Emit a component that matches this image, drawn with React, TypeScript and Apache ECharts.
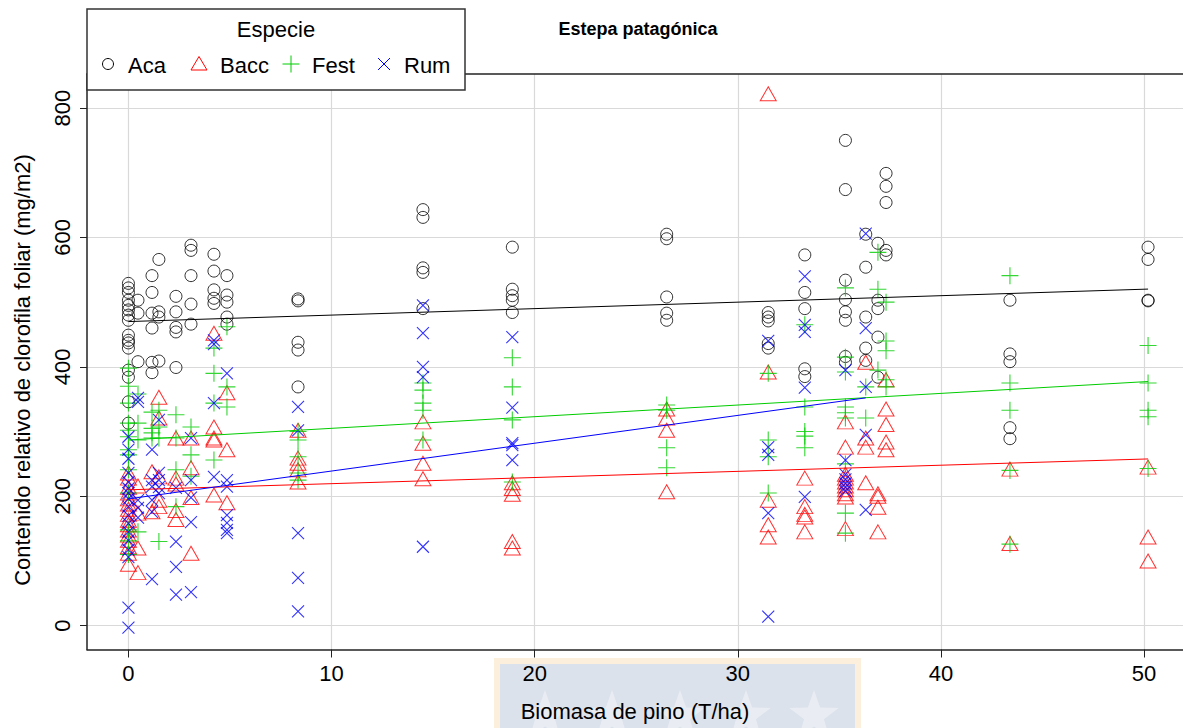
import { useEffect, useRef } from "react";
import * as echarts from "echarts";

// Pine biomass levels (T/ha) at which plants were sampled
const biomass = [0, 0.47, 1.16, 1.5, 2.34, 3.08, 4.21, 4.85, 8.35, 14.5, 18.9, 26.5, 31.5, 33.3, 35.3, 36.3, 36.9, 37.3, 43.4, 50.2];

// Relative leaf chlorophyll (mg/m2) per species, one list per biomass level
const acaValues = [
  [529, 522, 515, 503, 495, 488, 480, 472, 449, 441, 437, 429, 395, 384, 346, 313],
  [503, 483, 408],
  [541, 515, 483, 460, 407, 391],
  [566, 485, 477, 409],
  [509, 485, 461, 454, 399],
  [588, 580, 541, 497, 466],
  [574, 548, 519, 506, 498],
  [541, 511, 500, 477, 466],
  [505, 502, 438, 426, 369],
  [643, 631, 553, 546, 490],
  [585, 520, 510, 503, 484],
  [605, 598, 508, 483, 472],
  [484, 477, 471, 436, 429],
  [573, 515, 490, 397, 385],
  [750, 674, 534, 504, 485, 472, 416, 407],
  [605, 554, 477, 429, 410],
  [591, 503, 490, 446, 384],
  [699, 679, 654, 580, 573],
  [503, 420, 408, 306, 289],
  [585, 566, 503, 502],
];

const baccValues = [
  [236, 228, 214, 205, 196, 188, 180, 172, 163, 156, 148, 140, 132, 122, 112, 95],
  [216, 174, 120, 82],
  [238, 176],
  [353, 321, 230, 194, 184],
  [290, 228, 219, 178, 164],
  [290, 244, 198, 112],
  [452, 307, 290, 287, 202],
  [360, 272, 190],
  [302, 259, 251, 241, 222],
  [315, 282, 251, 227],
  [221, 212, 203, 130, 120],
  [335, 321, 302, 207],
  [822, 392, 194, 156, 137],
  [228, 184, 172, 168, 145],
  [315, 276, 234, 228, 222, 216, 210, 204, 199, 150],
  [407, 290, 276, 221],
  [204, 200, 183, 145],
  [380, 335, 311, 284, 272],
  [242, 127],
  [245, 137, 100],
];

const festValues = [
  [398, 370, 344, 313, 302, 292, 272, 264, 241, 205, 148, 131, 110],
  [358, 313, 287, 145],
  [330, 305, 298, 290],
  [333, 307, 290, 130],
  [326, 290, 241, 184],
  [307, 264, 231],
  [429, 390, 344, 256],
  [462, 369, 338],
  [300, 287, 261, 236, 225],
  [375, 364, 344, 333, 287],
  [414, 369, 318, 222],
  [341, 333, 275, 244],
  [390, 287, 261, 205],
  [465, 338, 300, 293, 275],
  [522, 415, 392, 338, 329, 321, 250, 174, 143],
  [369, 321],
  [577, 520, 395],
  [500, 440, 425, 380, 369],
  [541, 375, 333, 240, 126],
  [433, 375, 333, 323, 243],
];

const rumValues = [
  [292, 272, 258, 236, 222, 212, 205, 196, 184, 170, 158, 145, 132, 117, 106, 28, -3],
  [352, 346, 194, 182, 167],
  [272, 225, 215, 194, 176, 72],
  [318, 236, 225, 214, 205],
  [213, 130, 91, 48],
  [290, 225, 198, 160, 52],
  [441, 435, 344, 230],
  [390, 225, 215, 171, 159, 148, 143],
  [338, 302, 143, 74, 22],
  [495, 452, 400, 384, 122],
  [446, 337, 282, 279, 256],
  [],
  [440, 276, 264, 174, 14],
  [540, 465, 454, 368, 199],
  [395, 256, 234, 226, 220, 214, 208],
  [606, 460, 369, 295, 179],
  [],
  [],
  [],
  [],
];

// Fitted linear trends: [intercept, slope, last biomass level]
const trendAca = [470, 1.0, 50.2];
const trendBacc = [210, 0.95, 50.2];
const trendFest = [287, 1.8, 50.2];
const trendRum = [196, 4.3, 36.3];

const xTicks = [0, 10, 20, 30, 40, 50];
const yTicks = [0, 200, 400, 600, 800];

const FONT = "'Liberation Sans', Arial, Helvetica, sans-serif";

const toPoints = (values: number[][]) =>
  biomass.flatMap((x, i) => values[i].map((v) => [x, v]));

const trendLine = (t: number[]) => [
  [0, t[0]],
  [t[2], t[0] + t[1] * t[2]],
];

// five-pointed star outline used in the footer emblem
const star = (cx: number, cy: number, r: number) => {
  const pts: number[][] = [];
  for (let k = 0; k < 10; k++) {
    const rad = k % 2 === 0 ? r : r * 0.4;
    const a = -Math.PI / 2 + (k * Math.PI) / 5;
    pts.push([cx + rad * Math.cos(a), cy + rad * Math.sin(a)]);
  }
  return pts;
};

export default function App() {
  const ref = useRef<HTMLDivElement>(null);

  useEffect(() => {
    if (!ref.current) return;
    const chart = echarts.init(ref.current, null, { renderer: "svg" });

    const scatterBase = {
      type: "scatter" as const,
      emphasis: { disabled: true },
      z: 2,
    };

    const legendZ = 100;
    const legendY = 64;

    const option: any = {
      animation: false,
      backgroundColor: "#ffffff",
      textStyle: { fontFamily: FONT },
      grid: { left: 87, right: 0, top: 74, bottom: 78.5, containLabel: false },
      xAxis: [
        {
          type: "value",
          min: -2.04,
          max: 51.92,
          position: "bottom",
          axisLine: { show: true, onZero: false, lineStyle: { color: "#222", width: 1.5 } },
          axisTick: { show: true, length: 8, customValues: xTicks, lineStyle: { color: "#222", width: 1 } },
          axisLabel: { customValues: xTicks, fontSize: 22, color: "#000", margin: 13, fontFamily: FONT },
          splitLine: { show: true, lineStyle: { color: "#d9d9d9", width: 1.2 } },
          name: "Biomasa de pino (T/ha)",
          nameLocation: "middle",
          nameGap: 51,
          nameTextStyle: { fontSize: 22, color: "#000", fontFamily: FONT },
        },
        {
          type: "value",
          min: -2.04,
          max: 51.92,
          position: "top",
          axisLine: { show: true, onZero: false, lineStyle: { color: "#222", width: 1.5 } },
          axisTick: { show: false },
          axisLabel: { show: false },
          splitLine: { show: false },
        },
      ],
      yAxis: {
        type: "value",
        min: -36.8,
        max: 852.6,
        axisLine: { show: true, onZero: false, lineStyle: { color: "#222", width: 1.5 } },
        axisTick: { show: true, length: 7, customValues: yTicks, lineStyle: { color: "#222", width: 1 } },
        axisLabel: { customValues: yTicks, fontSize: 22, color: "#000", rotate: 90, margin: 14, fontFamily: FONT },
        splitLine: { show: true, lineStyle: { color: "#d9d9d9", width: 1.2 } },
      },
      series: [
        {
          ...scatterBase,
          name: "Aca",
          data: toPoints(acaValues),
          symbol: "circle",
          symbolSize: 12,
          itemStyle: { color: "transparent", borderColor: "#000000", borderWidth: 1 },
        },
        {
          ...scatterBase,
          name: "Bacc",
          data: toPoints(baccValues),
          symbol: "triangle",
          symbolSize: [16, 14],
          itemStyle: { color: "transparent", borderColor: "#ff0000", borderWidth: 1 },
        },
        {
          ...scatterBase,
          name: "Fest",
          data: toPoints(festValues),
          symbol: "path://M0,5L10,5M5,0L5,10",
          symbolSize: 17,
          itemStyle: { color: "transparent", borderColor: "#00cc00", borderWidth: 1.1 },
        },
        {
          ...scatterBase,
          name: "Rum",
          data: toPoints(rumValues),
          symbol: "path://M0,0L10,10M0,10L10,0",
          symbolSize: 12,
          itemStyle: { color: "transparent", borderColor: "#0000ff", borderWidth: 1.1 },
        },
        ...[
          { t: trendAca, c: "#000000" },
          { t: trendBacc, c: "#ff0000" },
          { t: trendFest, c: "#00cc00" },
          { t: trendRum, c: "#0000ff" },
        ].map((l) => ({
          type: "line",
          data: trendLine(l.t),
          symbol: "none",
          silent: true,
          z: 3,
          lineStyle: { color: l.c, width: 1 },
        })),
      ],
      graphic: [
        // footer emblem behind the x-axis labels
        { type: "rect", z: -10, shape: { x: 494, y: 658, width: 367, height: 70 }, style: { fill: "#fcf0dd" } },
        { type: "rect", z: -9, shape: { x: 500, y: 664, width: 355, height: 64 }, style: { fill: "#dce2eb" } },
        ...[545, 612, 680, 746, 814].map((cx) => ({
          type: "polygon",
          z: -8,
          shape: { points: star(cx, 716, 26) },
          style: { fill: "#e9edf3" },
        })),
        // y-axis title
        {
          type: "text",
          x: 22,
          y: 370,
          rotation: Math.PI / 2,
          style: {
            text: "Contenido relativo de clorofila foliar (mg/m2)",
            font: `22px ${FONT}`,
            fill: "#000",
            align: "center",
            verticalAlign: "middle",
          },
        },
        // title
        {
          type: "text",
          x: 638,
          y: 29,
          style: {
            text: "Estepa patagónica",
            font: `bold 18px ${FONT}`,
            fill: "#000",
            align: "center",
            verticalAlign: "middle",
          },
        },
        // legend box
        {
          type: "rect",
          z: legendZ,
          shape: { x: 87, y: 9, width: 378, height: 81 },
          style: { fill: "#ffffff", stroke: "#333333", lineWidth: 1.5 },
        },
        {
          type: "text",
          z: legendZ + 1,
          x: 276,
          y: 29,
          style: { text: "Especie", font: `22px ${FONT}`, fill: "#000", align: "center", verticalAlign: "middle" },
        },
        {
          type: "circle",
          z: legendZ + 1,
          shape: { cx: 108, cy: legendY, r: 5.5 },
          style: { fill: "none", stroke: "#000000", lineWidth: 1 },
        },
        {
          type: "text",
          z: legendZ + 1,
          x: 128,
          y: legendY + 1,
          style: { text: "Aca", font: `22px ${FONT}`, fill: "#000", verticalAlign: "middle" },
        },
        {
          type: "polygon",
          z: legendZ + 1,
          shape: { points: [[191, 70], [207, 70], [199, 56.5]] },
          style: { fill: "none", stroke: "#ff0000", lineWidth: 1 },
        },
        {
          type: "text",
          z: legendZ + 1,
          x: 220,
          y: legendY + 1,
          style: { text: "Bacc", font: `22px ${FONT}`, fill: "#000", verticalAlign: "middle" },
        },
        {
          type: "line",
          z: legendZ + 1,
          shape: { x1: 282.5, y1: legendY, x2: 299.5, y2: legendY },
          style: { stroke: "#00cc00", lineWidth: 1 },
        },
        {
          type: "line",
          z: legendZ + 1,
          shape: { x1: 291, y1: legendY - 8.5, x2: 291, y2: legendY + 8.5 },
          style: { stroke: "#00cc00", lineWidth: 1 },
        },
        {
          type: "text",
          z: legendZ + 1,
          x: 312,
          y: legendY + 1,
          style: { text: "Fest", font: `22px ${FONT}`, fill: "#000", verticalAlign: "middle" },
        },
        {
          type: "line",
          z: legendZ + 1,
          shape: { x1: 378, y1: legendY - 6, x2: 390, y2: legendY + 6 },
          style: { stroke: "#0000ff", lineWidth: 1 },
        },
        {
          type: "line",
          z: legendZ + 1,
          shape: { x1: 378, y1: legendY + 6, x2: 390, y2: legendY - 6 },
          style: { stroke: "#0000ff", lineWidth: 1 },
        },
        {
          type: "text",
          z: legendZ + 1,
          x: 404,
          y: legendY + 1,
          style: { text: "Rum", font: `22px ${FONT}`, fill: "#000", verticalAlign: "middle" },
        },
      ],
    };

    chart.setOption(option);
    return () => chart.dispose();
  }, []);

  return (
    <div
      ref={ref}
      style={{ position: "fixed", left: 0, top: 0, width: 1183, height: 728, background: "#fff" }}
    />
  );
}
